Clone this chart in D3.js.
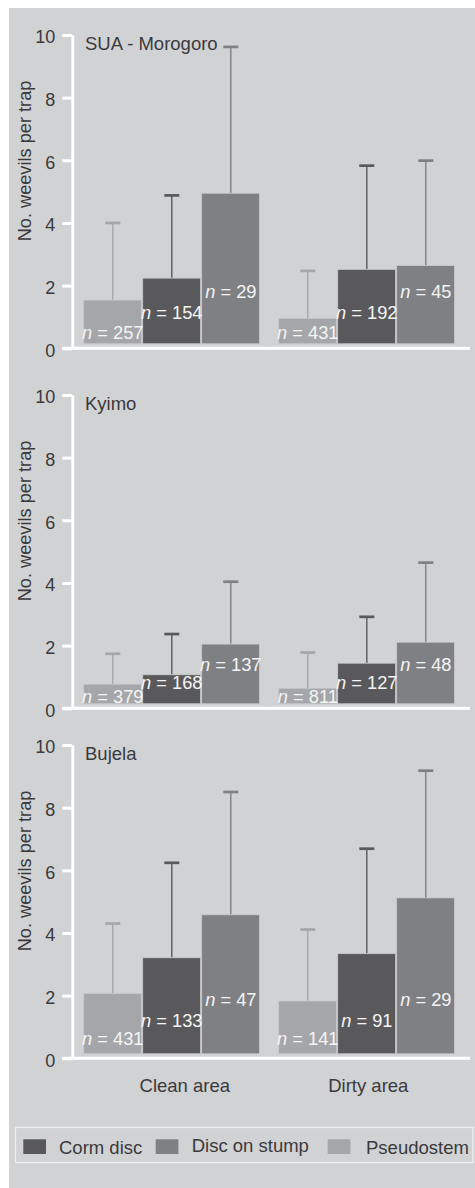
<!DOCTYPE html>
<html>
<head>
<meta charset="utf-8">
<script src="https://cdn.jsdelivr.net/npm/d3@7"></script>
<style>
  html, body { margin: 0; padding: 0; background: #ffffff; }
  svg { display: block; }
  text { font-family: "Liberation Sans", Arial, Helvetica, sans-serif; }
</style>
</head>
<body>
<svg id="chart" width="475" height="1188"></svg>
<script>
// ---------------- DATA ----------------
const sites = ["SUA - Morogoro", "Kyimo", "Bujela"];
const categories = ["Clean area", "Dirty area"];
const series = ["Pseudostem", "Corm disc", "Disc on stump"];
const legendOrder = ["Corm disc", "Disc on stump", "Pseudostem"];
const yTicks = [0, 2, 4, 6, 8, 10];

// mean values [category][series]  (series order: Pseudostem, Corm disc, Disc on stump)
const suaMean    = [[1.54, 2.24, 4.95], [0.96, 2.52, 2.64]];
const suaUpper   = [[4.00, 4.88, 9.62], [2.47, 5.83, 5.99]];
const suaN       = [[257, 154, 29], [431, 192, 45]];

const kyimoMean  = [[0.77, 1.07, 2.05], [0.64, 1.44, 2.11]];
const kyimoUpper = [[1.74, 2.37, 4.04], [1.78, 2.92, 4.65]];
const kyimoN     = [[379, 168, 137], [811, 127, 48]];

const bujelaMean  = [[2.07, 3.21, 4.58], [1.83, 3.34, 5.12]];
const bujelaUpper = [[4.30, 6.24, 8.50], [4.11, 6.69, 9.18]];
const bujelaN     = [[431, 133, 47], [141, 91, 29]];

const siteMeans = [suaMean, kyimoMean, bujelaMean];
const siteUppers = [suaUpper, kyimoUpper, bujelaUpper];
const siteNs = [suaN, kyimoN, bujelaN];

// ---------------- STYLE / LAYOUT ----------------
const colors = { "Pseudostem": "#a5a6a9", "Corm disc": "#59595b", "Disc on stump": "#7f8084" };
const bg = "#d1d2d4";
const textColor = "#3a3a3c";
const panelTops = [35, 395, 745];
const panelH = 313.3;
const axisX = 72.3;
const xAxisEnd = 470;
const baseGap = 4.5;            // bars stop just above the axis line
const labelLift = [[9, 29, 50.6], [5.6, 19.6, 37.3], [13, 31.3, 52.3]];
const catLabelDx = [13, 1.5];
const legendSwatchX = [23.3, 155.7, 327.7];
const legendTextX = [59, 191.7, 366];

const svg = d3.select("#chart");

svg.append("rect").attr("x", 9).attr("y", 8).attr("width", 466).attr("height", 1180).attr("fill", bg);

const x0 = d3.scaleBand().domain(categories).range([83.3, 455.3]).paddingInner(0.0923).paddingOuter(0);
const x1 = d3.scaleBand().domain(series).range([0, x0.bandwidth()]).padding(0);

sites.forEach((site, si) => {
  const top = panelTops[si];
  const y = d3.scaleLinear().domain([0, 10]).range([top + panelH, top]);
  const g = svg.append("g");
  const y0 = y(0);

  // bars
  categories.forEach((cat, ci) => {
    series.forEach((s, k) => {
      const m = siteMeans[si][ci][k];
      const up = siteUppers[si][ci][k];
      const bx = x0(cat) + x1(s);
      const bw = x1.bandwidth();
      const cx = bx + bw / 2;
      // error bar
      g.append("line").attr("x1", cx).attr("x2", cx).attr("y1", y(m)).attr("y2", y(up))
        .attr("stroke", colors[s]).attr("stroke-width", 1.4);
      g.append("line").attr("x1", cx - 7.5).attr("x2", cx + 7.5).attr("y1", y(up)).attr("y2", y(up))
        .attr("stroke", colors[s]).attr("stroke-width", 2.7);
      g.append("rect")
        .attr("x", bx + 0.4).attr("width", bw - 1.2)
        .attr("y", y(m)).attr("height", Math.max(0, (y0 - baseGap) - y(m)))
        .attr("fill", colors[s]).attr("stroke", "#c9cacc").attr("stroke-width", 0.8);
    });
  });

  // n labels
  categories.forEach((cat, ci) => {
    series.forEach((s, k) => {
      const cx = x0(cat) + x1(s) + x1.bandwidth() / 2;
      const t = g.append("text").attr("x", cx).attr("y", y0 - labelLift[si][k])
        .attr("text-anchor", "middle").attr("font-size", 18.3).attr("fill", "#f4f4f4");
      t.append("tspan").attr("font-style", "italic").text("n");
      t.append("tspan").text(" = " + siteNs[si][ci][k]);
    });
  });

  // y axis
  const yAxis = d3.axisLeft(y).tickValues(yTicks).tickSize(10).tickSizeOuter(0).tickPadding(7).tickFormat(d3.format("d"));
  const ga = g.append("g").attr("transform", `translate(${axisX},0)`).call(yAxis);
  ga.select(".domain").attr("stroke", "#ffffff").attr("stroke-width", 3);
  ga.selectAll(".tick line").attr("stroke", "#ffffff").attr("stroke-width", 3);
  ga.selectAll(".tick text").attr("fill", textColor).attr("font-size", 18).attr("dy", "0.44em")
    .attr("font-family", '"Liberation Sans", Arial, sans-serif');

  // x axis line
  g.append("line").attr("x1", 62).attr("x2", xAxisEnd).attr("y1", y0).attr("y2", y0)
    .attr("stroke", "#ffffff").attr("stroke-width", 3);

  // y title
  g.append("text").attr("transform", `translate(31,${top + 126}) rotate(-90)`)
    .attr("text-anchor", "middle").attr("font-size", 18.2).attr("fill", textColor)
    .text("No. weevils per trap");

  // site title
  g.append("text").attr("x", 85).attr("y", top + 15).attr("font-size", 18.5).attr("fill", textColor).text(site);

  // category labels (bottom panel only)
  if (si === sites.length - 1) {
    categories.forEach((cat, ci) => {
      g.append("text").attr("x", x0(cat) + x0.bandwidth() / 2 + catLabelDx[ci]).attr("y", y0 + 34)
        .attr("text-anchor", "middle").attr("font-size", 18.5).attr("fill", textColor).text(cat);
    });
  }
});

// legend
const lg = svg.append("g");
lg.append("rect").attr("x", 15.5).attr("y", 1127.5).attr("width", 457.5).attr("height", 35)
  .attr("fill", bg).attr("stroke", "#f0f0f0").attr("stroke-width", 1.2);
legendOrder.forEach((s, i) => {
  lg.append("rect").attr("x", legendSwatchX[i]).attr("y", 1139.3).attr("width", 22.7).attr("height", 14.7)
    .attr("fill", colors[s]);
  lg.append("text").attr("x", legendTextX[i]).attr("y", i === 1 ? 1152 : 1153.5)
    .attr("font-size", 18.5).attr("fill", textColor).text(s);
});
</script>
</body>
</html>
